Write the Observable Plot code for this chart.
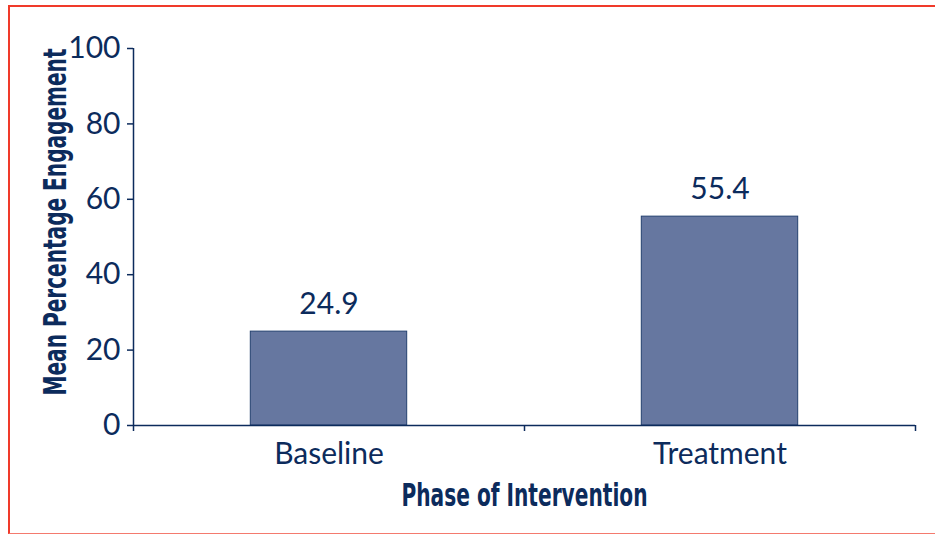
<!DOCTYPE html>
<html>
<head>
<meta charset="utf-8">
<script src="https://cdn.jsdelivr.net/npm/d3@7"></script>
<script src="https://cdn.jsdelivr.net/npm/@observablehq/plot@0.6"></script>
<style>
  html, body { margin: 0; padding: 0; background: #fff; }
  #wrap { position: relative; width: 935px; height: 535px; overflow: hidden; }
  #frame { position: absolute; left: 8px; top: 5px; width: 940px; height: 529px;
           border-top: 2.5px solid #f03a2a; border-left: 2.5px solid #f03a2a; border-bottom: 1.5px solid #f47a6e; box-sizing: border-box; pointer-events: none; }
</style>
</head>
<body>
<div id="wrap"><div id="frame"></div></div>
<script>
const phases = ["Baseline", "Treatment"];
const means = [24.9, 55.4];
const yTicks = [0, 20, 40, 60, 80, 100];
const xTitle = "Phase of Intervention";
const yTitle = "Mean Percentage Engagement";

const data = phases.map((p, i) => ({phase: p, value: means[i], i}));
const navy = "#0c2b5c";
const titleFont = "'Liberation Sans Narrow', 'DejaVu Sans Condensed', sans-serif";

const chart = Plot.plot({
  width: 935,
  height: 535,
  marginLeft: 133,
  marginRight: 20,
  marginTop: 48,
  marginBottom: 110,
  style: {fontFamily: "Lato, sans-serif", fontSize: "30px", fontWeight: 400, color: navy, background: "transparent"},
  x: {type: "linear", domain: [0, phases.length], axis: null},
  y: {domain: [0, 100], axis: null},
  marks: [
    Plot.rectY(data, {x1: d => d.i + 0.3, x2: d => d.i + 0.7, y1: 0, y2: "value", fill: "#6677a0", stroke: "#23406f", strokeWidth: 1}),
    Plot.axisY({ticks: yTicks, tickSize: 6, tickPadding: 7, strokeWidth: 1.5, fontSize: 30, label: null, tickFormat: d => String(d)}),
    Plot.axisX({ticks: d3.range(phases.length + 1), tickSize: 6, strokeWidth: 1.5, label: null, tickFormat: () => ""}),
    Plot.ruleX([0], {y1: 0, y2: 100, stroke: navy, strokeWidth: 1.5}),
    Plot.ruleY([0], {x1: 0, x2: phases.length, stroke: navy, strokeWidth: 1.5}),
    Plot.text(data, {x: d => d.i + 0.5, y: "value", text: d => d.value.toFixed(1), lineAnchor: "bottom", dy: -18, fill: navy, fontSize: 30}),
    Plot.text(data, {x: d => d.i + 0.5, y: 0, text: "phase", lineAnchor: "bottom", dy: 38, fill: navy, fontSize: 30}),
    Plot.text([xTitle], {frameAnchor: "bottom", textAnchor: "middle", lineAnchor: "bottom", dy: 80, fill: navy, fontSize: 32, fontWeight: "bold", fontFamily: titleFont, className: "xtitle"}),
    Plot.text([yTitle], {frameAnchor: "left", textAnchor: "middle", lineAnchor: "middle", rotate: -90, dx: -78, dy: -15, fill: navy, fontSize: 32, fontWeight: "bold", fontFamily: titleFont, className: "ytitle"})
  ]
});

d3.select(chart).selectAll(".xtitle text").attr("textLength", 246).attr("lengthAdjust", "spacingAndGlyphs");
d3.select(chart).selectAll(".ytitle text").attr("textLength", 347).attr("lengthAdjust", "spacingAndGlyphs");

document.getElementById("wrap").prepend(chart);
chart.style.position = "absolute";
chart.style.left = "0";
chart.style.top = "0";
</script>
</body>
</html>
